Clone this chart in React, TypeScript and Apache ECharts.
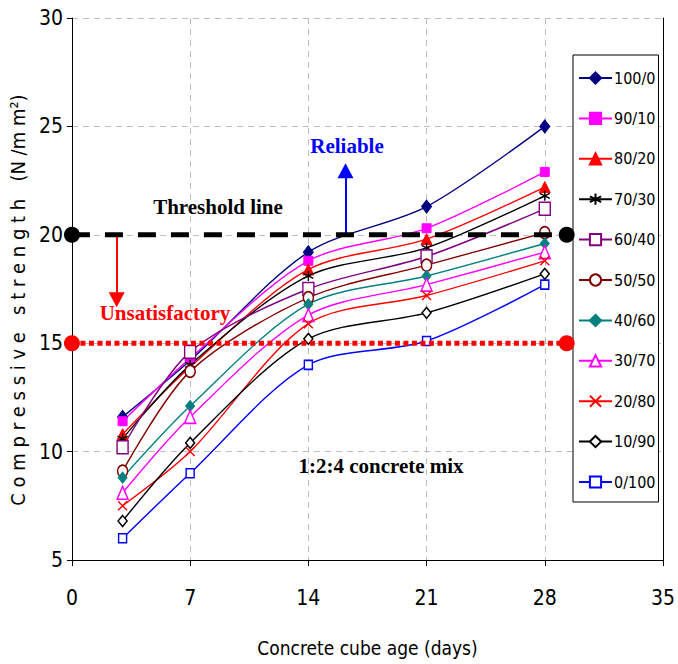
import React, { useEffect, useRef } from "react";
import * as echarts from "echarts";

const ages = [3, 7, 14, 21, 28];
const seriesNames = ["100/0", "90/10", "80/20", "70/30", "60/40", "50/50", "40/60", "30/70", "20/80", "10/90", "0/100"];
const s100_0 = [11.6, 14.2, 19.2, 21.3, 25.0];
const s90_10 = [11.4, 14.3, 18.8, 20.3, 22.9];
const s80_20 = [10.8, 13.9, 18.4, 19.8, 22.2];
const s70_30 = [10.6, 14.0, 18.1, 19.4, 21.8];
const s60_40 = [10.2, 14.6, 17.5, 19.0, 21.2];
const s50_50 = [9.1, 13.7, 17.1, 18.6, 20.1];
const s40_60 = [8.8, 12.1, 16.8, 18.1, 19.6];
const s30_70 = [8.1, 11.6, 16.3, 17.7, 19.2];
const s20_80 = [7.5, 10.0, 15.9, 17.2, 18.8];
const s10_90 = [6.8, 10.4, 15.2, 16.4, 18.2];
const s0_100 = [6.0, 9.0, 14.0, 15.1, 17.7];
const seriesValues = [s100_0, s90_10, s80_20, s70_30, s60_40, s50_50, s40_60, s30_70, s20_80, s10_90, s0_100];

const thresholdValue = 20;
const unsatisfactoryValue = 15;
const thresholdEndX = 29.3;
const reliableArrowX = 16.2;
const reliableArrowTip = 22.95;
const unsatArrowX = 2.65;
const unsatArrowTip = 17.0;

const xTicks = { min: 0, max: 35, interval: 7 };
const yTicks = { min: 5, max: 30, interval: 5 };

const NARROW = "'Liberation Sans Narrow', 'Arial Narrow', 'DejaVu Sans Condensed', 'Liberation Sans', Arial, sans-serif";
const SERIF = "'Liberation Serif', 'Times New Roman', serif";

const styles = [
  { color: "#000080", symbol: "diamond", size: [10, 13], fill: "#000080" },
  { color: "#FF00FF", symbol: "rect", size: 9, fill: "#FF00FF" },
  { color: "#FF0000", symbol: "triangle", size: 11, fill: "#FF0000" },
  { color: "#000000", symbol: "path://M5,0L5,10M0.7,2.5L9.3,7.5M9.3,2.5L0.7,7.5", size: 10, fill: "none" },
  { color: "#800080", symbol: "rect", size: [11, 13], fill: "#ffffff" },
  { color: "#800000", symbol: "circle", size: [10, 12], fill: "#ffffff" },
  { color: "#008080", symbol: "diamond", size: [9, 11], fill: "#008080" },
  { color: "#FF00FF", symbol: "triangle", size: [11, 13], fill: "#ffffff" },
  { color: "#FF0000", symbol: "path://M0,0L10,10M10,0L0,10", size: 9, fill: "none" },
  { color: "#000000", symbol: "diamond", size: [9, 11], fill: "#ffffff" },
  { color: "#0000FF", symbol: "rect", size: [8, 9], fill: "#ffffff" },
];

export default function App() {
  const ref = useRef<HTMLDivElement>(null);
  useEffect(() => {
    document.documentElement.style.overflow = "hidden";
    document.body.style.margin = "0";
    document.body.style.overflow = "hidden";
    if (!ref.current) return;
    const chart = echarts.init(ref.current, null, { renderer: "svg" });

    const dataSeries = seriesNames.map((name, i) => {
      const st = styles[i];
      return {
        name,
        type: "line",
        smooth: 0.3,
        data: ages.map((a, j) => [a, seriesValues[i][j]]),
        symbol: st.symbol,
        symbolSize: st.size,
        showAllSymbol: true,
        lineStyle: { color: st.color, width: 1.4 },
        itemStyle: { color: st.fill === "none" ? "rgba(0,0,0,0)" : st.fill, borderColor: st.color, borderWidth: st.fill === "none" ? 1.4 : st.fill === "#ffffff" ? 1.5 : 1 },
        z: 3,
      };
    });

    const option: any = {
      animation: false,
      backgroundColor: "#ffffff",
      grid: { left: 71, top: 18, right: 9, bottom: 104, containLabel: false },
      legend: {
        data: seriesNames,
        orient: "vertical",
        left: 573,
        top: 55,
        padding: [15, 3, 12, 5],
        itemWidth: 33,
        itemHeight: 14,
        itemGap: 24.4,
        backgroundColor: "#ffffff",
        borderColor: "#000000",
        borderWidth: 1,
        borderRadius: 0,
        textStyle: { fontFamily: NARROW, fontSize: 16, color: "#000000", padding: [0, 0, 0, -3] },
      },
      xAxis: {
        type: "value",
        min: xTicks.min,
        max: xTicks.max,
        interval: xTicks.interval,
        name: "Concrete cube age (days)",
        nameLocation: "middle",
        nameGap: 78,
        nameTextStyle: { fontFamily: NARROW, fontSize: 19, color: "#000000" },
        axisLine: { show: true, lineStyle: { color: "#000000", width: 1 } },
        axisTick: { show: true, length: 6, lineStyle: { color: "#000000" } },
        axisLabel: { fontFamily: NARROW, fontSize: 21, color: "#000000", margin: 27 },
        splitLine: { show: true, lineStyle: { color: "#bdbdbd", type: [6, 5], width: 1 } },
      },
      yAxis: [
        {
          type: "value",
          min: yTicks.min,
          max: yTicks.max,
          interval: yTicks.interval,
          name: "C o m p r e s s i v e   s t r e n g t h   (N /m m\u00B2)",
          nameLocation: "middle",
          nameRotate: 90,
          nameGap: 24,
          nameTextStyle: { fontFamily: NARROW, fontSize: 20, color: "#000000", padding: [0, 22, 0, 0] },
          axisLine: { show: true, lineStyle: { color: "#000000", width: 1 } },
          axisTick: { show: true, length: 5, lineStyle: { color: "#000000" } },
          axisLabel: { fontFamily: NARROW, fontSize: 21, color: "#000000", margin: 9 },
          splitLine: { show: true, lineStyle: { color: "#bdbdbd", type: [6, 5], width: 1 } },
        },
        {
          type: "value",
          min: yTicks.min,
          max: yTicks.max,
          interval: yTicks.interval,
          position: "right",
          axisLine: { show: true, onZero: false, lineStyle: { color: "#000000", width: 1 } },
          axisTick: { show: false },
          axisLabel: { show: false },
          splitLine: { show: false },
        },
      ],
      series: [
        {
          name: "Threshold",
          type: "line",
          data: [[0, thresholdValue], [thresholdEndX, thresholdValue]],
          symbol: "circle",
          symbolSize: 16,
          clip: false,
          itemStyle: { color: "#000000" },
          lineStyle: { color: "#000000", width: 5, type: [18, 15] },
          z: 5,
          markLine: {
            silent: true,
            symbol: ["none", "triangle"],
            symbolSize: [16, 15],
            label: { show: false },
            data: [
              [
                { coord: [reliableArrowX, thresholdValue], lineStyle: { color: "#0000FF", width: 2, type: "solid" }, itemStyle: { color: "#0000FF" } },
                { coord: [reliableArrowX, reliableArrowTip] },
              ],
              [
                { coord: [unsatArrowX, thresholdValue], lineStyle: { color: "#FF0000", width: 2, type: "solid" }, itemStyle: { color: "#FF0000" } },
                { coord: [unsatArrowX, unsatArrowTip] },
              ],
            ],
          },
        },
        {
          name: "Unsatisfactory",
          type: "line",
          data: [[0, unsatisfactoryValue], [thresholdEndX, unsatisfactoryValue]],
          symbol: "circle",
          symbolSize: 16,
          clip: false,
          itemStyle: { color: "#FF0000" },
          lineStyle: { color: "#FF0000", width: 5, type: [5, 3.5] },
          z: 5,
        },
        ...dataSeries,
      ],
      graphic: [
        { type: "text", x: 218, y: 207, z: 10, style: { text: "Threshold line", fontFamily: SERIF, fontWeight: "bold", fontSize: 21, fill: "#000000", align: "center", verticalAlign: "middle" } },
        { type: "text", x: 347, y: 146, z: 10, style: { text: "Reliable", fontFamily: SERIF, fontWeight: "bold", fontSize: 21, fill: "#0000FF", align: "center", verticalAlign: "middle" } },
        { type: "text", x: 165, y: 313, z: 10, style: { text: "Unsatisfactory", fontFamily: SERIF, fontWeight: "bold", fontSize: 21, fill: "#FF0000", align: "center", verticalAlign: "middle" } },
        { type: "text", x: 381, y: 466, z: 10, style: { text: "1:2:4 concrete mix", fontFamily: SERIF, fontWeight: "bold", fontSize: 21, fill: "#000000", align: "center", verticalAlign: "middle" } },
      ],
    };
    chart.setOption(option);
    return () => chart.dispose();
  }, []);
  return <div ref={ref} style={{ position: "absolute", left: 0, top: 0, width: 678, height: 664 }} />;
}
